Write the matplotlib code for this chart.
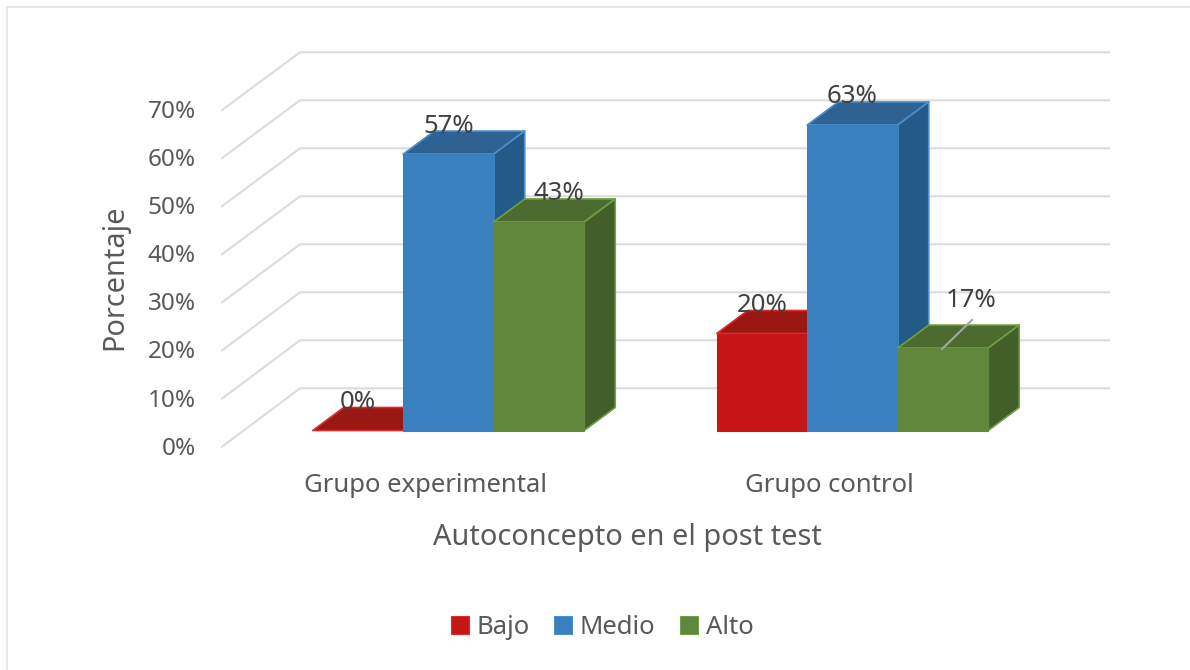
import matplotlib
matplotlib.use('Agg')
import matplotlib.pyplot as plt
from matplotlib.patches import Polygon, Patch

plt.rcParams['font.family'] = ['Noto Sans', 'DejaVu Sans']

# data
groups = ['Grupo experimental', 'Grupo control']
series = ['Bajo', 'Medio', 'Alto']
bajo = [0, 20]
medio = [57, 63]
alto = [43, 17]
y_ticks = [0, 10, 20, 30, 40, 50, 60, 70]

# face, top, side, edge
red = ['#c71616', '#9a1712', '#8a1410', '#dd2a2a']
blue = ['#3b80be', '#2d6293', '#245a87', '#4a90d0']
green = ['#60883c', '#4c6b2f', '#425f2a', '#6fa044']
colors = [red, blue, green]
text_col = '#595959'
label_col = '#404040'
grid_col = '#dcdcdc'

W, H = 1190, 670
PX_Y = 4.85      # pixels per percent
PX_X = 404.0     # pixels per group
Y0 = 430.5       # pixel row of the bar bottoms
X0 = 448.5       # pixel column of first group centre
BAR_W = 90.5 / PX_X
DX = 31 / PX_X
DY = 23 / PX_Y

fig = plt.figure(figsize=(W / 100, H / 100), dpi=100)
ax = fig.add_axes([0, 0, 1, 1])
ax.set_xlim(-X0 / PX_X, (W - X0) / PX_X)
ax.set_ylim((Y0 - H) / PX_Y, Y0 / PX_Y)
ax.axis('off')


# helpers for chart furniture placed by pixel
def xp(p):
    return (p - X0) / PX_X


def yp(p):
    return (Y0 - p) / PX_Y


# outer frame
ax.plot([xp(7), xp(7), xp(1190)], [yp(670), yp(7), yp(7)], color='#e6e6e6', lw=1.5)

# walls
for i, t in enumerate(y_ticks):
    y_front = 446.7 - i * 48.1
    y_back = 388.3 - i * 48.0
    ax.plot([xp(222), xp(300), xp(1109)], [yp(y_front), yp(y_back), yp(y_back)],
            color=grid_col, lw=1.5, solid_joinstyle='miter')
    ax.text(xp(196), yp(y_front + 2), f'{t}%', ha='right', va='center',
            fontsize=17.5, color=text_col)

# bars
for s, vals in enumerate([bajo, medio, alto]):
    face, top, side, edge = colors[s]
    for g, v in enumerate(vals):
        x1 = g + (s - 1.5) * BAR_W
        x2 = x1 + BAR_W
        ax.add_patch(Polygon([(x1, v), (x2, v), (x2 + DX, v + DY), (x1 + DX, v + DY)],
                             fc=top, ec=edge, lw=1.2, joinstyle='round', zorder=3))
        ax.add_patch(Polygon([(x2, 0), (x2 + DX, DY), (x2 + DX, v + DY), (x2, v)],
                             fc=side, ec=edge, lw=1.2, joinstyle='round', zorder=3))
        if v > 0:
            ax.add_patch(Polygon([(x1, 0), (x2, 0), (x2, v), (x1, v)],
                                 fc=face, ec=face, lw=0.8, zorder=3))

# value labels, bumped where the original was dragged
for s, vals in enumerate([bajo, medio, alto]):
    for g, v in enumerate(vals):
        xc = g + (s - 1) * BAR_W
        yc = v + DY + 5 / PX_Y
        if s == 2 and g == 0:
            xc += 20 / PX_X
        if s == 2 and g == 1:
            xc = xp(971)
            yc = yp(301)
            ax.plot([xp(942), xp(972)], [yp(349), yp(320)], color='#a6a6a6', lw=1.5, zorder=4)
        ax.text(xc, yc, f'{v}%', ha='center', va='center', fontsize=18.5,
                color=label_col, zorder=5)

# group names and titles
for g, name in enumerate(groups):
    ax.text(g + xp(425), yp(486), name, ha='center', va='center', fontsize=18.5,
            color=text_col)
ax.text(xp(627), yp(537), 'Autoconcepto en el post test', ha='center', va='center',
        fontsize=20.8, color=text_col)
ax.text(xp(115), yp(277), 'Porcentaje', ha='center', va='center', rotation=90,
        fontsize=20.8, color=text_col)

handles = [Patch(fc=c[0], ec=c[3], lw=0.8) for c in colors]
ax.legend(handles, series, loc='center', bbox_to_anchor=(602 / W, 1 - 627 / H),
          ncol=3, frameon=False, fontsize=18.5, labelcolor=text_col,
          handlelength=0.7, handleheight=0.7, handletextpad=0.3, columnspacing=0.95)

fig.savefig('out.png', dpi=100)
